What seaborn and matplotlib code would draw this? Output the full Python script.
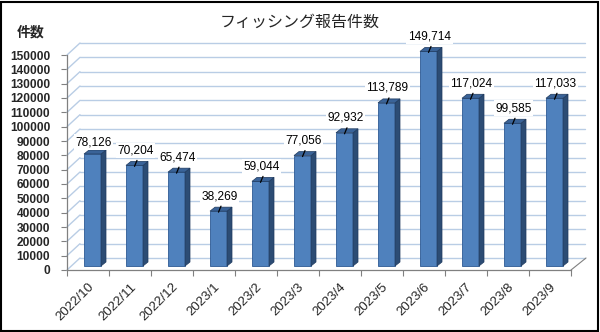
import matplotlib
matplotlib.use("Agg")
import matplotlib.pyplot as plt
import seaborn as sns
import pandas as pd
import numpy as np
from matplotlib.patches import Polygon, Rectangle
from matplotlib.transforms import ScaledTranslation
from matplotlib.lines import Line2D

months = ["2022/10", "2022/11", "2022/12", "2023/1", "2023/2", "2023/3",
          "2023/4", "2023/5", "2023/6", "2023/7", "2023/8", "2023/9"]
reports = [78126, 70204, 65474, 38269, 59044, 77056,
           92932, 113789, 149714, 117024, 99585, 117033]
y_ticks = list(range(0, 150001, 10000))

title = "フィッシング報告件数"
y_title = "件数"

sns.set_theme(style="white")
plt.rcParams['font.family'] = ['Liberation Sans', 'Noto Sans CJK JP', 'DejaVu Sans']

W, H, DPI = 600, 332, 100
fig = plt.figure(figsize=(W / DPI, H / DPI), dpi=DPI)
fig.patch.set_facecolor("white")

# axes geometry (pixels)
ax_l, ax_r, ax_b, ax_t = 67, 571, 270, 55
ax = fig.add_axes([ax_l / W, 1 - ax_b / H, (ax_r - ax_l) / W, (ax_b - ax_t) / H])
ax.set_facecolor("none")

df = pd.DataFrame({"month": months, "reports": reports})
sns.barplot(data=df, x="month", y="reports", ax=ax, width=0.405,
            color="#4F81BD", saturation=1, edgecolor="#2E5A94", linewidth=0.6,
            zorder=3)

ymax = y_ticks[-1]
ax.set_xlim(-0.5, len(months) - 0.5)
ax.set_ylim(0, ymax)

# pixel -> data conversions
px_x = (len(months)) / (ax_r - ax_l)
px_y = ymax / (ax_b - ax_t)

def off(dx, dy):
    return ax.transData + ScaledTranslation(dx / DPI, dy / DPI, fig.dpi_scale_trans)

# back wall gridlines and left wall diagonals
wall_dx, wall_dy = 14, 12
grid_col = "#B9CDE5"
for v in y_ticks:
    ax.add_line(Line2D([-0.5, len(months) - 0.5 + 1 * px_x], [v, v],
                       transform=off(wall_dx - 1, wall_dy), color=grid_col,
                       lw=1.0, clip_on=False, zorder=1))
    ax.add_line(Line2D([-0.5, -0.5 + (wall_dx - 1) * px_x],
                       [v, v + wall_dy * px_y], color=grid_col, lw=1.0,
                       clip_on=False, zorder=1))
# floor right edge
ax.add_line(Line2D([len(months) - 0.5, len(months) - 0.5 + (wall_dx + 1) * px_x],
                   [0, wall_dy * px_y], color="#808080", lw=0.8,
                   clip_on=False, zorder=2))

# 3D bars: shift front faces, add side and top faces
bar_dx, bar_dy = 4.5, 4
dep_x, dep_y = 5 * px_x, 4 * px_y
tr = off(bar_dx, bar_dy)
for p in ax.patches[:len(months)]:
    p.set_transform(tr)
    p.set_clip_on(False)
    x0, w, h = p.get_x(), p.get_width(), p.get_height()
    side = Polygon([[x0 + w, 0], [x0 + w + dep_x, dep_y],
                    [x0 + w + dep_x, h + dep_y], [x0 + w, h]],
                   closed=True, facecolor="#2C4C74", edgecolor="#1F3A5E",
                   lw=0.5, transform=tr, clip_on=False, zorder=3)
    top = Polygon([[x0, h], [x0 + w, h], [x0 + w + dep_x, h + dep_y],
                   [x0 + dep_x, h + dep_y]],
                  closed=True, facecolor="#3A6398", edgecolor="#1F3A5E",
                  lw=0.5, transform=tr, clip_on=False, zorder=3)
    ax.add_patch(side)
    ax.add_patch(top)

# value labels with leader lines
for i, v in enumerate(reports):
    gap = 12 if i == 0 else 15
    ax.text(i, v, f"{v:,}", transform=off(bar_dx + 1, bar_dy + gap),
            ha="center", va="center", fontsize=8.6, color="black",
            bbox=dict(boxstyle="square,pad=0.15", fc="white", ec="none"),
            zorder=5, clip_on=False)
    if i > 0:
        ax.add_line(Line2D([i - 1 * px_x, i + 1.5 * px_x],
                           [v - 1 * px_y, v + 5 * px_y],
                           transform=off(bar_dx + 1, bar_dy), color="black",
                           lw=0.9, clip_on=False, zorder=6))

# spines and ticks
for s in ["top", "right"]:
    ax.spines[s].set_visible(False)
for s in ["left", "bottom"]:
    ax.spines[s].set_color("#808080")
    ax.spines[s].set_linewidth(0.9)

ax.set_yticks(y_ticks)
ax.set_yticklabels([str(t) for t in y_ticks], fontsize=8.6, fontweight="bold")
ax.tick_params(axis="y", direction="out", length=4, width=0.8, color="#808080",
               pad=8, left=True)
ax.set_xticks(range(len(months)))
ax.set_xticklabels(months, rotation=45, ha="right", rotation_mode="anchor",
                   fontsize=9.5)
ax.set_xticks(np.arange(-0.5, len(months)), minor=True)
ax.tick_params(axis="x", which="major", length=0, pad=8)
ax.tick_params(axis="x", which="minor", direction="out", length=4, width=0.8,
               color="#808080", bottom=True)
ax.set_xlabel("")
ax.set_ylabel("")
ax.grid(False)

fig.text(300 / W, 1 - 22 / H, title, ha="center", va="center", fontsize=11.5,
         family=["Noto Sans CJK JP", "DejaVu Sans"])
fig.text(31 / W, 1 - 33 / H, y_title, ha="center", va="center", fontsize=10,
         fontweight="bold", family=["Noto Sans CJK JP", "DejaVu Sans"])

fig.add_artist(Rectangle((1 / W, 1 / H), (W - 3) / W, (H - 3) / H,
                         transform=fig.transFigure, fill=False,
                         edgecolor="black", lw=1.5))

fig.savefig("out.png", dpi=DPI)
